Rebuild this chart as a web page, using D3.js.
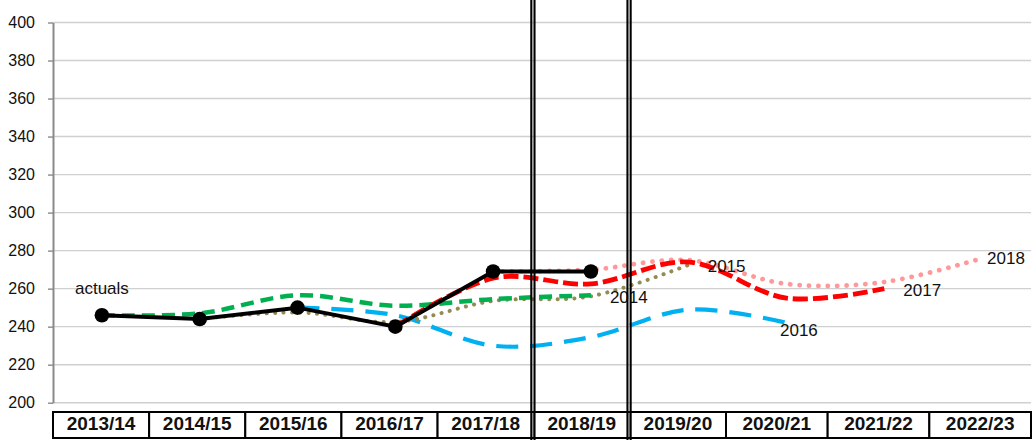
<!DOCTYPE html>
<html>
<head>
<meta charset="utf-8">
<script src="https://cdn.jsdelivr.net/npm/d3@7/dist/d3.min.js"></script>
<style>
  body { margin: 0; background: #fff; }
  svg { display: block; font-family: "Liberation Sans", Arial, sans-serif; }
</style>
</head>
<body>
<svg></svg>
<script>
// Categories along the bottom (financial years)
const categories = ["2013/14", "2014/15", "2015/16", "2016/17", "2017/18",
  "2018/19", "2019/20", "2020/21", "2021/22", "2022/23"];

// Y axis ticks
const yTicks = [200, 220, 240, 260, 280, 300, 320, 340, 360, 380, 400];

// Actuals and the forecasts made in each year (null = no value for that year)
const actuals = [246, 244, 250, 240, 269, 269];
const forecast2014 = [246, 247, 256.5, 251, 254.5, 256.5];
const forecast2015 = [null, 244, 247.5, 242.5, 253.5, 256, 272.5];
const forecast2016 = [null, null, 250, 246, 230, 234.5, 249, 242];
const forecast2017 = [null, null, null, 240, 265.5, 262.5, 274, 255, 260];
const forecast2018 = [null, null, null, null, 269, 270, 275, 262.5, 263.5, 276];

// Columns where the double separator lines go (between 2017/18|2018/19 and 2018/19|2019/20)
const doubleLineCols = [5, 6];

// Dimensions
const width = 1033;
const height = 440;
const margin = { top: 22.5, right: 2, bottom: 37.3, left: 53 };

const svg = d3.select("svg")
  .attr("width", width)
  .attr("height", height);

// Scales
const xScale = d3.scalePoint()
  .domain(categories)
  .range([margin.left, width - margin.right])
  .padding(0.5);

const yScale = d3.scaleLinear()
  .domain([200, 400])
  .range([height - margin.bottom, margin.top]);

// The table under the chart has slightly wider cells on the right
const tableX = d3.scaleLinear()
  .domain([0, 7, 10])
  .range([margin.left, 726, width - margin.right]);

// Horizontal gridlines
svg.append("g")
  .selectAll("line")
  .data(yTicks)
  .join("line")
  .attr("x1", margin.left)
  .attr("x2", width - margin.right)
  .attr("y1", d => yScale(d))
  .attr("y2", d => yScale(d))
  .attr("stroke", "#d0d0d0")
  .attr("stroke-width", 1.4);

// Y axis
const yAxis = svg.append("g")
  .attr("transform", `translate(${margin.left},0)`)
  .call(d3.axisLeft(yScale).tickValues(yTicks).tickSize(5).tickPadding(13).tickSizeOuter(0));
yAxis.select(".domain").attr("stroke", "#8a8a8a").attr("stroke-width", 2);
yAxis.selectAll(".tick line").attr("stroke", "#8a8a8a").attr("stroke-width", 1.4);
yAxis.selectAll(".tick text")
  .attr("fill", "#111")
  .style("font-size", "16px")
  .style("font-family", "'Liberation Sans', Arial, sans-serif");

// Series settings
const series = [
  { name: "2016", values: forecast2016, color: "#00b0f0", width: 4.2, dash: "22,12", cap: "butt", dx: -6.5, dy: 7.5 },
  { name: "2015", values: forecast2015, color: "#948a54", width: 4, dash: "0.1,8.3", cap: "round", dx: 19, dy: 1.5 },
  { name: "2014", values: forecast2014, color: "#00b050", width: 4.5, dash: "13,7", cap: "butt", dx: 19, dy: 1.5 },
  { name: "2018", values: forecast2018, color: "#ff9999", width: 4.8, dash: "0.1,9.3", cap: "round", dx: 5, dy: 0 },
  { name: "2017", values: forecast2017, color: "#ff0000", width: 4.8, dash: "15,5", cap: "butt", dx: 19, dy: 1.5 }
];

// Line generator for smoothed forecasts
const smoothLine = d3.line()
  .defined(d => d.v != null)
  .x(d => xScale(d.c))
  .y(d => yScale(d.v))
  .curve(d3.curveCardinal.tension(0));

const toPoints = vals => vals.map((v, i) => ({ c: categories[i], v: v }));

series.forEach(s => {
  svg.append("path")
    .datum(toPoints(s.values).filter(d => d.v != null))
    .attr("d", smoothLine)
    .attr("fill", "none")
    .attr("stroke", s.color)
    .attr("stroke-width", s.width)
    .attr("stroke-dasharray", s.dash)
    .attr("stroke-linecap", s.cap);
});

// Actuals: straight black line with markers
const actualPts = toPoints(actuals);
svg.append("path")
  .datum(actualPts)
  .attr("d", d3.line().x(d => xScale(d.c)).y(d => yScale(d.v)))
  .attr("fill", "none")
  .attr("stroke", "#000")
  .attr("stroke-width", 4);

svg.append("g")
  .selectAll("circle")
  .data(actualPts)
  .join("circle")
  .attr("cx", d => xScale(d.c))
  .attr("cy", d => yScale(d.v))
  .attr("r", 7.3)
  .attr("fill", "#000");

// Labels at the end of each forecast line
series.forEach(s => {
  const last = toPoints(s.values).filter(d => d.v != null).pop();
  svg.append("text")
    .attr("x", xScale(last.c) + s.dx)
    .attr("y", yScale(last.v) + s.dy)
    .attr("dy", "0.35em")
    .attr("fill", "#111")
    .style("font-size", "17px")
    .text(s.name);
});

// "actuals" label above the first point
svg.append("text")
  .attr("x", xScale(categories[0]))
  .attr("y", yScale(actuals[0]) - 27)
  .attr("dy", "0.35em")
  .attr("text-anchor", "middle")
  .attr("fill", "#111")
  .style("font-size", "17px")
  .text("actuals");

// Table with the year labels under the chart
const tableTop = 412;
const tableH = 26;
const cells = svg.append("g")
  .selectAll("g")
  .data(categories)
  .join("g");

cells.append("rect")
  .attr("x", (d, i) => tableX(i))
  .attr("y", tableTop)
  .attr("width", (d, i) => tableX(i + 1) - tableX(i))
  .attr("height", tableH)
  .attr("fill", "#fff")
  .attr("stroke", "#000")
  .attr("stroke-width", 2);

cells.append("text")
  .attr("x", (d, i) => (tableX(i) + tableX(i + 1)) / 2)
  .attr("y", tableTop + 18)
  .attr("text-anchor", "middle")
  .attr("fill", "#111")
  .style("font-size", "19px")
  .style("font-weight", "bold")
  .text(d => d);

// Double separator lines running from the top down through the table
doubleLineCols.forEach(col => {
  const cx = tableX(col) - 0.8;
  svg.append("rect")
    .attr("x", cx - 0.6)
    .attr("y", tableTop + 1)
    .attr("width", 1.2)
    .attr("height", tableH - 2)
    .attr("fill", "#fff");
  [-1.6, 1.6].forEach(off => {
    svg.append("line")
      .attr("x1", cx + off)
      .attr("x2", cx + off)
      .attr("y1", 0)
      .attr("y2", height)
      .attr("stroke", "#000")
      .attr("stroke-width", 2.1);
  });
});
</script>
</body>
</html>
